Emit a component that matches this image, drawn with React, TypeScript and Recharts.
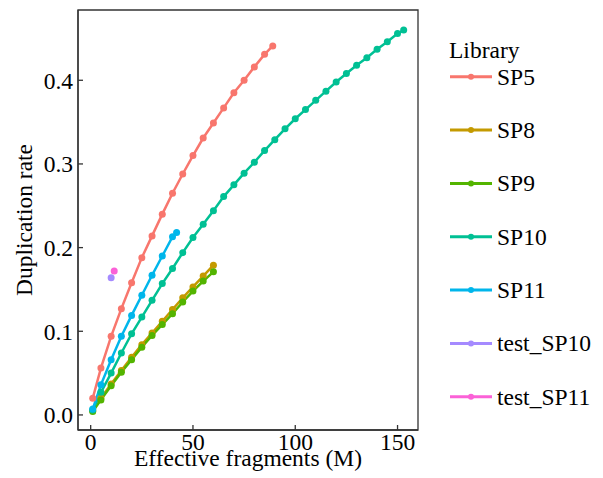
import { LineChart, Line, XAxis, YAxis, ReferenceArea } from "recharts"

// Effective fragments (M) sampled every 5M for each library
const SP5_X = [1, 5, 10, 15, 20, 25, 30, 35, 40, 45, 50, 55, 60, 65, 70, 75, 80, 85, 89]
const SP5_Y = [0.02, 0.056, 0.094, 0.127, 0.158, 0.188, 0.214, 0.24, 0.265, 0.288, 0.31, 0.331, 0.349, 0.367, 0.385, 0.4, 0.416, 0.431, 0.441]

const SP8_X = [1, 5, 10, 15, 20, 25, 30, 35, 40, 45, 50, 55, 60]
const SP8_Y = [0.005, 0.02, 0.037, 0.053, 0.069, 0.084, 0.098, 0.112, 0.126, 0.14, 0.153, 0.166, 0.179]

const SP9_X = [1, 5, 10, 15, 20, 25, 30, 35, 40, 45, 50, 55, 60]
const SP9_Y = [0.004, 0.018, 0.035, 0.051, 0.066, 0.081, 0.095, 0.108, 0.121, 0.135, 0.148, 0.16, 0.171]

const SP10_X = [1, 5, 10, 15, 20, 25, 30, 35, 40, 45, 50, 55, 60, 65, 70, 75, 80, 85, 90, 95, 100, 105, 110, 115, 120, 125, 130, 135, 140, 145, 150, 153]
const SP10_Y = [0.006, 0.027, 0.05, 0.074, 0.097, 0.117, 0.137, 0.157, 0.175, 0.194, 0.212, 0.228, 0.244, 0.261, 0.275, 0.289, 0.302, 0.316, 0.329, 0.342, 0.354, 0.365, 0.376, 0.387, 0.398, 0.408, 0.418, 0.427, 0.437, 0.446, 0.456, 0.46]

const SP11_X = [1, 5, 10, 15, 20, 25, 30, 35, 40, 42]
const SP11_Y = [0.007, 0.036, 0.066, 0.094, 0.119, 0.143, 0.167, 0.19, 0.213, 0.218]

const TEST_SP10_X = [10]
const TEST_SP10_Y = [0.164]
const TEST_SP11_X = [11.5]
const TEST_SP11_Y = [0.172]

const X_TICKS = [0, 50, 100, 150]
const Y_TICKS = [0, 0.1, 0.2, 0.3, 0.4]

const FONT = "Liberation Serif, Times New Roman, DejaVu Serif, serif"
const FONT_SIZE = 23.5
const FRAME = "#333333"

const toPoints = (xs: number[], ys: number[]) => xs.map((x, i) => ({ x, y: ys[i] }))

const series = [
	{ name: "SP5", color: "#F8766D", data: toPoints(SP5_X, SP5_Y) },
	{ name: "SP8", color: "#C49A00", data: toPoints(SP8_X, SP8_Y) },
	{ name: "SP9", color: "#53B400", data: toPoints(SP9_X, SP9_Y) },
	{ name: "SP10", color: "#00C094", data: toPoints(SP10_X, SP10_Y) },
	{ name: "SP11", color: "#00B6EB", data: toPoints(SP11_X, SP11_Y) },
	{ name: "test_SP10", color: "#A58AFF", data: toPoints(TEST_SP10_X, TEST_SP10_Y) },
	{ name: "test_SP11", color: "#FB61D7", data: toPoints(TEST_SP11_X, TEST_SP11_Y) },
]

const X_DOMAIN: [number, number] = [-6.2, 160]
const Y_DOMAIN: [number, number] = [-0.018, 0.484]

const tickStyle = { fontFamily: FONT, fontSize: FONT_SIZE, fill: "#000" }

function LegendBox() {
	return (
		<svg width={603} height={478} style={{ position: "absolute", left: 0, top: 0, pointerEvents: "none" }}>
			<text x={449} y={50} dominantBaseline="central" fontFamily={FONT} fontSize={FONT_SIZE} fill="#000">
				Library
			</text>
			{series.map((s, i) => {
				const cy = 76.7 + i * 53.35
				return (
					<g key={s.name}>
						<line x1={450} x2={492} y1={cy} y2={cy} stroke={s.color} strokeWidth={3} />
						<circle cx={471} cy={cy} r={3} fill={s.color} />
						<text x={497} y={cy} dominantBaseline="central" fontFamily={FONT} fontSize={FONT_SIZE} fill="#000">
							{s.name}
						</text>
					</g>
				)
			})}
		</svg>
	)
}

export default function App() {
	return (
		<div style={{ position: "relative", width: 603, height: 478, background: "#fff", fontFamily: FONT }}>
			<style>{"body{margin:0}"}</style>
			<LineChart width={603} height={478} margin={{ top: 10, right: 185, bottom: 0, left: 0 }}>
				<XAxis
					dataKey="x"
					type="number"
					domain={X_DOMAIN}
					ticks={X_TICKS}
					allowDataOverflow
					height={48}
					tickSize={-5}
					tickMargin={8}
					tick={tickStyle}
					axisLine={{ stroke: FRAME, strokeWidth: 1.3 }}
					tickLine={{ stroke: FRAME, strokeWidth: 1.3 }}
					label={{ value: "Effective fragments (M)", position: "insideBottom", offset: 12, style: tickStyle }}
				/>
				<YAxis
					dataKey="y"
					type="number"
					domain={Y_DOMAIN}
					ticks={Y_TICKS}
					allowDataOverflow
					width={78}
					tickSize={-5}
					tickMargin={10}
					tickFormatter={(v: number) => v.toFixed(1)}
					tick={tickStyle}
					axisLine={{ stroke: FRAME, strokeWidth: 1.3 }}
					tickLine={{ stroke: FRAME, strokeWidth: 1.3 }}
					label={{
						value: "Duplication rate",
						angle: -90,
						position: "insideLeft",
						offset: 24,
						style: { ...tickStyle, textAnchor: "middle" },
					}}
				/>
				{/* panel border, as in the ggplot theme */}
				<ReferenceArea
					x1={X_DOMAIN[0]}
					x2={X_DOMAIN[1]}
					y1={Y_DOMAIN[0]}
					y2={Y_DOMAIN[1]}
					fill="none"
					stroke={FRAME}
					strokeWidth={1.3}
					ifOverflow="visible"
				/>
				{series.map((s) => (
					<Line
						key={s.name}
						data={s.data}
						dataKey="y"
						name={s.name}
						type="linear"
						stroke={s.color}
						strokeWidth={2.5}
						dot={{ r: 3.5, fill: s.color, stroke: "none" }}
						activeDot={false}
						isAnimationActive={false}
					/>
				))}
			</LineChart>
			<LegendBox />
		</div>
	)
}
